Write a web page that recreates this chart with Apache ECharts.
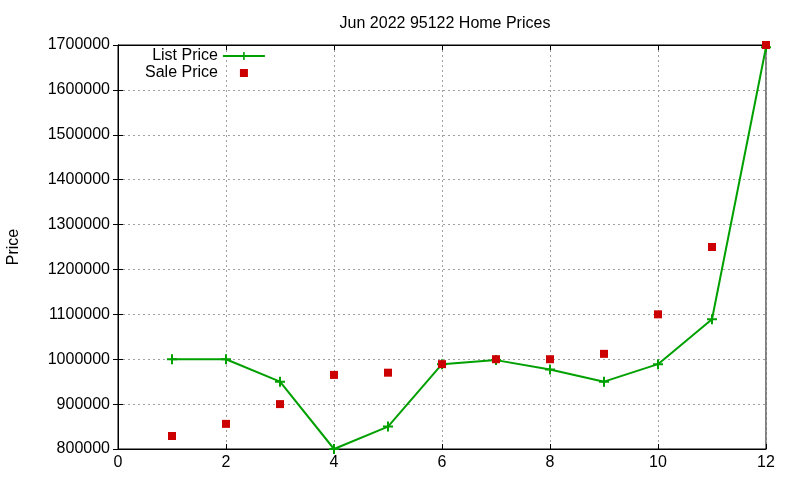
<!DOCTYPE html>
<html>
<head>
<meta charset="utf-8">
<script src="https://cdn.jsdelivr.net/npm/echarts@6/dist/echarts.min.js"></script>
<style>
  html, body { margin: 0; padding: 0; background: #fff; }
  #chart { width: 800px; height: 480px; }
</style>
</head>
<body>
<div id="chart"></div>
<script>
// month of 2022 (x) and prices
var months = [1, 2, 3, 4, 5, 6, 7, 8, 9, 10, 11, 12];
var listPrice = [1000000, 1000000, 950000, 800000, 850000, 989000, 998000, 977000, 950000, 989000, 1089000, 1695000];
var salePrice = [829000, 856000, 900000, 965000, 970000, 989000, 1000000, 1000000, 1012000, 1100000, 1250000, 1700000];

var font = "'Liberation Sans', Arial, sans-serif";
var gridLine = { show: true, lineStyle: { color: '#a0a0a0', type: [2, 3], width: 1 } };
var plusPath = 'path://M4,0H6V4H10V6H6V10H4V6H0V4H4Z';

function pairs(ys) {
    return months.map(function (m, i) { return [m, ys[i]]; });
}

var chart = echarts.init(document.getElementById('chart'));
var option = {
    animation: false,
    backgroundColor: '#fff',
    title: {
        text: 'Jun 2022 95122 Home Prices',
        left: 440,
        top: 11,
        textAlign: 'center',
        textStyle: { fontFamily: font, fontSize: 16, fontWeight: 'normal', color: '#000' }
    },
    legend: {
        orient: 'vertical',
        left: 145,
        top: 48,
        padding: 0,
        align: 'right',
        itemWidth: 42,
        itemHeight: 10,
        itemGap: 1,
        textStyle: { fontFamily: font, fontSize: 16, lineHeight: 14, color: '#000' },
        data: ['List Price', 'Sale Price']
    },
    grid: {
        left: 118, right: 34, top: 45, bottom: 31,
        outerBoundsMode: 'none',
        show: true, borderColor: '#000', borderWidth: 1
    },
    xAxis: [{
        type: 'value', min: 0, max: 12, interval: 2,
        axisLine: { show: true, lineStyle: { color: '#000' } },
        axisTick: { inside: true, length: 5, lineStyle: { color: '#000' } },
        axisLabel: { margin: 6, color: '#000', fontFamily: font, fontSize: 16 },
        splitLine: gridLine
    }, {
        type: 'value', position: 'top', min: 0, max: 12, interval: 2,
        axisLine: { show: true, lineStyle: { color: '#000' } },
        axisTick: { inside: true, length: 5, lineStyle: { color: '#000' } },
        axisLabel: { show: false },
        splitLine: { show: false }
    }],
    yAxis: [{
        type: 'value', min: 800000, max: 1700000, interval: 100000,
        name: 'Price', nameLocation: 'middle', nameGap: 96,
        nameTextStyle: { fontFamily: font, fontSize: 16, color: '#000' },
        axisLine: { show: true, lineStyle: { color: '#000' } },
        axisTick: { inside: true, length: 5, lineStyle: { color: '#000' } },
        axisLabel: {
            margin: 8, color: '#000', fontFamily: font, fontSize: 16,
            formatter: function (v) { return String(v); }
        },
        splitLine: gridLine
    }, {
        type: 'value', position: 'right', min: 800000, max: 1700000, interval: 100000,
        axisLine: { show: true, lineStyle: { color: '#000' } },
        axisTick: { inside: true, length: 5, lineStyle: { color: '#000' } },
        axisLabel: { show: false },
        splitLine: { show: false }
    }],
    series: [{
        name: 'List Price',
        type: 'line',
        data: pairs(listPrice),
        clip: false,
        symbol: plusPath,
        symbolSize: 10,
        showAllSymbol: true,
        itemStyle: { color: '#00a000' },
        lineStyle: { color: '#00a000', width: 2 }
    }, {
        name: 'Sale Price',
        type: 'line',
        data: pairs(salePrice),
        clip: false,
        symbol: 'rect',
        symbolSize: 8,
        itemStyle: { color: '#cc0000' },
        lineStyle: { opacity: 0, width: 0 }
    }]
};
chart.setOption(option);
</script>
</body>
</html>
